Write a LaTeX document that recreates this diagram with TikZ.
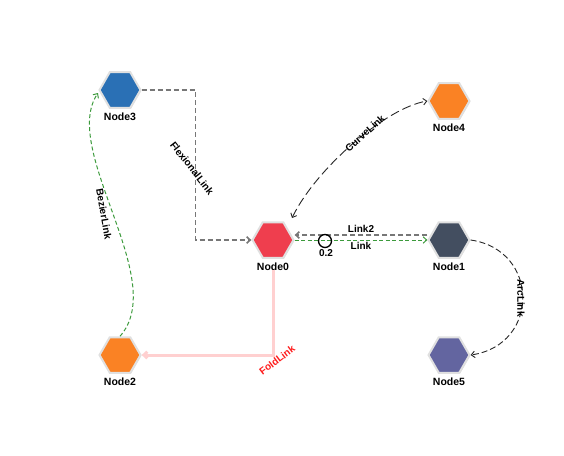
\documentclass[tikz,border=0pt]{standalone}
\usepackage{fontspec}
\setmainfont{Liberation Sans}
\setsansfont{Liberation Sans}
\usetikzlibrary{shapes.geometric,arrows.meta,shadows,calc}
\definecolor{cBlue}{HTML}{2A70B5}
\definecolor{cOrange}{HTML}{FA8224}
\definecolor{cRed}{HTML}{EF3E4E}
\definecolor{cSlate}{HTML}{434E60}
\definecolor{cPurple}{HTML}{6365A0}
\definecolor{eGray}{HTML}{777777}
\definecolor{eGreen}{HTML}{3C9A3C}
\definecolor{ePink}{HTML}{FFD0D0}
\definecolor{eRed}{HTML}{FF1A1A}
\tikzset{
  hex/.style={regular polygon, regular polygon sides=6, minimum size=41pt, inner sep=0pt,
    draw=black!12, line width=2pt, fill=#1,
    drop shadow={shadow xshift=0.8pt, shadow yshift=-0.8pt, opacity=0.15, fill=black}},
  nlbl/.style={font=\bfseries\fontsize{10.5}{12}\selectfont, inner sep=0pt},
  elbl/.style={font=\bfseries\fontsize{10}{12}\selectfont, inner sep=0pt},
  barb/.tip={Straight Barb[length=3.5pt,width=6.5pt]},
  grayline/.style={draw=eGray, line width=1.6pt, dash pattern=on 5pt off 3pt},
  greenline/.style={draw=eGreen, line width=1pt, dash pattern=on 4pt off 2.5pt},
  blackline/.style={draw=black!85, line width=0.9pt, dash pattern=on 9pt off 4pt},
  arcline/.style={draw=black!85, line width=0.9pt, dash pattern=on 6pt off 3pt},
  foldline/.style={draw=ePink, line width=3pt},
}
\begin{document}
\begin{tikzpicture}[x=1pt,y=-1pt]
\useasboundingbox (0,0) rectangle (564,455);
\node[hex=cBlue,   label={[nlbl,name=l3,label distance=3.5pt]below:Node3}] (n3) at (120,90) {};
\node[hex=cOrange, label={[nlbl,name=l4,label distance=3.5pt]below:Node4}] (n4) at (449,101) {};
\node[hex=cRed,    label={[nlbl,name=l0,label distance=3.5pt]below:Node0}] (n0) at (273,240) {};
\node[hex=cSlate,  label={[nlbl,name=l1,label distance=3.5pt]below:Node1}] (n1) at (449,240) {};
\node[hex=cOrange, label={[nlbl,name=l2,label distance=3.5pt]below:Node2}] (n2) at (120,355) {};
\node[hex=cPurple, label={[nlbl,name=l5,label distance=3.5pt]below:Node5}] (n5) at (449,355) {};

% FlexionalLink
\draw[grayline, -barb] (n3.east) -| ($(n0.west)+(-56,0)$) -- (n0.west);
\node[elbl, rotate=-52] (tflex) at (192,168) {FlexionalLink};

% Link2 and Link
\draw[grayline, -barb] ([yshift=5pt]n1.west) -- ([yshift=5pt]n0.east)
  node[elbl, midway, above=2pt] (tlink2) {Link2};
\draw[greenline, -barb] (n0.east) -- (n1.west)
  node[elbl, midway, below=2pt] (tlink) {Link};
\node[circle, draw=black, line width=1.3pt, minimum size=13pt, inner sep=0pt] (mark) at (325,241) {};
\node[elbl] (tval) at (326,253) {0.2};

% CurveLink
\draw[blackline, barb-barb] ([shift={(19,-22)}]n0.center) .. controls (315,170) and (385,108) .. (n4.west);
\node[elbl, rotate=42] (tcurve) at (365,133) {CurveLink};

% ArcLink
\draw[arcline, -barb] (n1.east) .. controls (540,250) and (540,345) .. (n5.east);
\node[elbl, rotate=-90] (tarc) at (521,298) {ArcLink};

% BezierLink
\draw[greenline, -barb] (n2.north) .. controls (170,280) and (60,150) .. ([shift={(-22,3)}]n3.center);
\node[elbl, rotate=-80] (tbez) at (104,214) {BezierLink};

% FoldLink
\draw[foldline, -barb] (l0.south) |- (n2.east);
\node[elbl, text=eRed, rotate=37] (tfold) at (277,360) {FoldLink};
\end{tikzpicture}
\end{document}
